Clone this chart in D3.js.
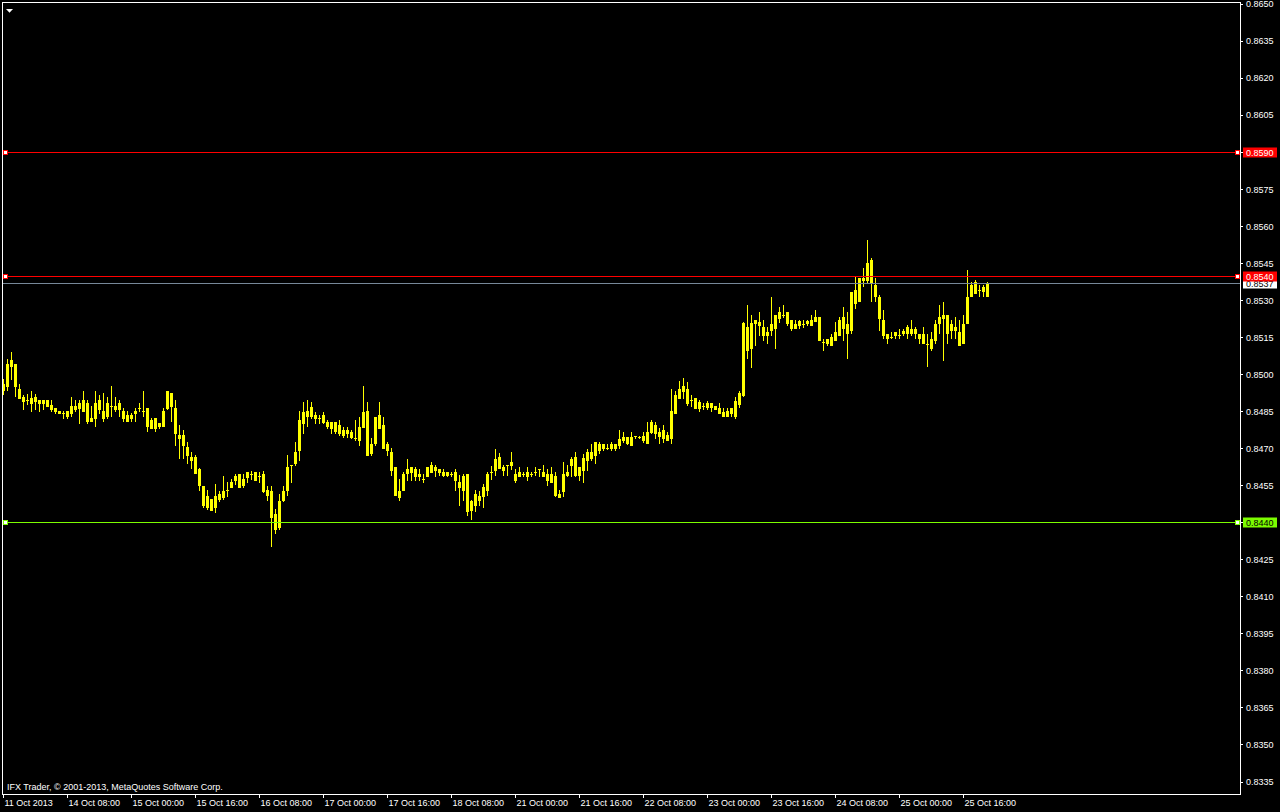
<!DOCTYPE html>
<html><head><meta charset="utf-8">
<script src="https://cdn.jsdelivr.net/npm/d3@7"></script>
<style>
html,body{margin:0;padding:0;background:#000;overflow:hidden}
svg{display:block}
text{font-family:"Liberation Sans",Arial,sans-serif;font-size:9px}
</style>
</head><body>
<svg id="c" width="1280" height="812"></svg>
<script>
// ---- data (EURGBP-like H1 candles, 11 Oct 2013 16:00 .. 25 Oct 2013) ----
const opens=[
0.84938,0.84952,0.85057,0.85043,0.84942,0.84907,0.84894,0.84884,0.84907,0.84894,
0.84883,0.84894,0.84875,0.84864,0.84853,0.84844,0.84829,0.84843,0.84873,0.84864,
0.84851,0.84884,0.84810,0.84821,0.84894,0.84853,0.84829,0.84873,0.84873,0.84861,
0.84853,0.84833,0.84821,0.84843,0.84864,0.84853,0.84864,0.84781,0.84824,0.84790,
0.84790,0.84864,0.84922,0.84864,0.84752,0.84752,0.84705,0.84665,0.84663,0.84616,
0.84546,0.84463,0.84493,0.84463,0.84493,0.84503,0.84533,0.84544,0.84573,0.84544,
0.84576,0.84584,0.84595,0.84573,0.84587,0.84595,0.84533,0.84525,0.84433,0.84380,
0.84490,0.84530,0.84634,0.84641,0.84693,0.84801,0.84829,0.84867,0.84833,0.84824,
0.84808,0.84806,0.84781,0.84806,0.84761,0.84774,0.84761,0.84767,0.84742,0.84734,
0.84787,0.84853,0.84680,0.84720,0.84833,0.84793,0.84716,0.84684,0.84625,0.84525,
0.84532,0.84599,0.84602,0.84615,0.84586,0.84575,0.84586,0.84602,0.84625,0.84615,
0.84603,0.84592,0.84594,0.84603,0.84565,0.84532,0.84595,0.84451,0.84471,0.84505,
0.84505,0.84532,0.84602,0.84612,0.84665,0.84612,0.84634,0.84633,0.84595,0.84586,
0.84594,0.84586,0.84594,0.84602,0.84615,0.84603,0.84595,0.84564,0.84586,0.84514,
0.84525,0.84592,0.84634,0.84665,0.84592,0.84612,0.84653,0.84684,0.84673,0.84716,
0.84703,0.84703,0.84700,0.84716,0.84713,0.84734,0.84744,0.84713,0.84751,0.84744,
0.84734,0.84723,0.84767,0.84793,0.84765,0.84740,0.84754,0.84740,0.84844,0.84902,
0.84932,0.84942,0.84894,0.84905,0.84862,0.84873,0.84869,0.84885,0.84873,0.84865,
0.84846,0.84829,0.84841,0.84829,0.84881,0.84914,0.85191,0.85107,0.85207,0.85212,
0.85192,0.85160,0.85180,0.85188,0.85229,0.85241,0.85253,0.85221,0.85188,0.85200,
0.85204,0.85208,0.85200,0.85217,0.85233,0.85132,0.85128,0.85120,0.85140,0.85160,
0.85188,0.85204,0.85180,0.85289,0.85297,0.85389,0.85382,0.85463,0.85362,0.85314,
0.85221,0.85164,0.85152,0.85160,0.85160,0.85168,0.85168,0.85184,0.85168,0.85164,
0.85164,0.85124,0.85108,0.85140,0.85208,0.85229,0.85241,0.85180,0.85192,0.85172,
0.85128,0.85208,0.85318,0.85330,0.85342,0.85338,0.85318];
const highs=[
0.84981,0.85063,0.85090,0.85043,0.84962,0.84915,0.84921,0.84934,0.84921,0.84894,
0.84894,0.84894,0.84894,0.84864,0.84853,0.84853,0.84853,0.84906,0.84894,0.84894,
0.84934,0.84894,0.84873,0.84934,0.84915,0.84922,0.84906,0.84954,0.84906,0.84894,
0.84864,0.84851,0.84843,0.84864,0.84884,0.84934,0.84864,0.84824,0.84824,0.84803,
0.84864,0.84934,0.84922,0.84894,0.84793,0.84773,0.84724,0.84684,0.84674,0.84622,
0.84546,0.84533,0.84493,0.84555,0.84525,0.84587,0.84565,0.84576,0.84595,0.84595,
0.84595,0.84602,0.84606,0.84602,0.84602,0.84606,0.84546,0.84546,0.84454,0.84514,
0.84546,0.84674,0.84634,0.84724,0.84853,0.84887,0.84894,0.84887,0.84847,0.84833,
0.84847,0.84813,0.84806,0.84806,0.84813,0.84786,0.84786,0.84773,0.84813,0.84827,
0.84954,0.84887,0.84743,0.84827,0.84887,0.84827,0.84724,0.84703,0.84625,0.84575,
0.84603,0.84656,0.84625,0.84625,0.84615,0.84595,0.84625,0.84645,0.84634,0.84615,
0.84615,0.84603,0.84603,0.84615,0.84592,0.84595,0.84595,0.84491,0.84532,0.84525,
0.84555,0.84603,0.84629,0.84696,0.84682,0.84634,0.84634,0.84684,0.84615,0.84625,
0.84603,0.84625,0.84603,0.84625,0.84615,0.84634,0.84615,0.84625,0.84603,0.84532,
0.84645,0.84634,0.84665,0.84684,0.84625,0.84676,0.84696,0.84716,0.84724,0.84724,
0.84716,0.84716,0.84724,0.84716,0.84773,0.84765,0.84744,0.84765,0.84751,0.84751,
0.84765,0.84805,0.84813,0.84805,0.84783,0.84793,0.84765,0.84942,0.84933,0.84973,
0.84983,0.84967,0.84914,0.84905,0.84894,0.84885,0.84893,0.84885,0.84873,0.84885,
0.84865,0.84865,0.84865,0.84906,0.84934,0.85212,0.85281,0.85241,0.85221,0.85253,
0.85221,0.85192,0.85313,0.85241,0.85273,0.85281,0.85253,0.85221,0.85221,0.85221,
0.85221,0.85221,0.85241,0.85261,0.85233,0.85144,0.85144,0.85164,0.85213,0.85233,
0.85273,0.85253,0.85334,0.85398,0.85390,0.85431,0.85544,0.85471,0.85390,0.85322,
0.85261,0.85164,0.85172,0.85172,0.85184,0.85184,0.85200,0.85221,0.85192,0.85164,
0.85192,0.85164,0.85172,0.85221,0.85281,0.85293,0.85241,0.85221,0.85233,0.85221,
0.85241,0.85423,0.85374,0.85382,0.85362,0.85362,0.85374];
const lows=[
0.84918,0.84938,0.84979,0.84911,0.84902,0.84861,0.84880,0.84851,0.84861,0.84851,
0.84861,0.84871,0.84851,0.84843,0.84841,0.84822,0.84822,0.84829,0.84851,0.84802,
0.84851,0.84802,0.84810,0.84790,0.84843,0.84810,0.84822,0.84830,0.84851,0.84829,
0.84810,0.84810,0.84810,0.84810,0.84851,0.84830,0.84770,0.84781,0.84770,0.84783,
0.84790,0.84861,0.84810,0.84713,0.84661,0.84661,0.84641,0.84622,0.84599,0.84532,
0.84463,0.84452,0.84451,0.84443,0.84485,0.84493,0.84506,0.84544,0.84555,0.84544,
0.84544,0.84565,0.84576,0.84573,0.84565,0.84522,0.84491,0.84304,0.84355,0.84374,
0.84485,0.84511,0.84565,0.84633,0.84653,0.84761,0.84790,0.84821,0.84801,0.84801,
0.84801,0.84781,0.84761,0.84761,0.84754,0.84747,0.84747,0.84740,0.84734,0.84713,
0.84787,0.84673,0.84673,0.84713,0.84781,0.84700,0.84673,0.84592,0.84512,0.84491,
0.84532,0.84572,0.84572,0.84572,0.84572,0.84564,0.84586,0.84602,0.84586,0.84592,
0.84586,0.84586,0.84586,0.84532,0.84471,0.84491,0.84431,0.84415,0.84444,0.84471,
0.84464,0.84512,0.84575,0.84592,0.84619,0.84592,0.84592,0.84615,0.84564,0.84586,
0.84586,0.84572,0.84586,0.84592,0.84586,0.84586,0.84552,0.84564,0.84505,0.84502,
0.84505,0.84586,0.84586,0.84586,0.84572,0.84565,0.84612,0.84653,0.84639,0.84682,
0.84693,0.84696,0.84693,0.84693,0.84703,0.84724,0.84716,0.84713,0.84743,0.84740,
0.84724,0.84723,0.84761,0.84743,0.84723,0.84724,0.84734,0.84723,0.84844,0.84902,
0.84905,0.84875,0.84871,0.84862,0.84851,0.84861,0.84861,0.84850,0.84861,0.84841,
0.84829,0.84829,0.84829,0.84821,0.84869,0.84910,0.85067,0.85031,0.85120,0.85160,
0.85140,0.85128,0.85160,0.85107,0.85212,0.85233,0.85200,0.85180,0.85188,0.85188,
0.85192,0.85200,0.85200,0.85217,0.85140,0.85099,0.85120,0.85120,0.85140,0.85160,
0.85140,0.85067,0.85168,0.85269,0.85297,0.85358,0.85374,0.85297,0.85297,0.85180,
0.85148,0.85128,0.85148,0.85148,0.85148,0.85160,0.85148,0.85160,0.85148,0.85128,
0.85128,0.85032,0.85099,0.85128,0.85168,0.85059,0.85128,0.85148,0.85148,0.85120,
0.85128,0.85208,0.85318,0.85330,0.85318,0.85318,0.85318];
const closes=[
0.84962,0.85043,0.85032,0.84952,0.84904,0.84891,0.84894,0.84904,0.84891,0.84883,
0.84894,0.84872,0.84861,0.84851,0.84843,0.84844,0.84853,0.84873,0.84861,0.84884,
0.84894,0.84810,0.84824,0.84884,0.84861,0.84821,0.84884,0.84873,0.84861,0.84884,
0.84821,0.84810,0.84833,0.84853,0.84864,0.84853,0.84790,0.84813,0.84781,0.84803,
0.84853,0.84934,0.84871,0.84762,0.84740,0.84713,0.84673,0.84653,0.84599,0.84552,
0.84471,0.84506,0.84451,0.84506,0.84514,0.84525,0.84533,0.84565,0.84587,0.84595,
0.84552,0.84602,0.84595,0.84602,0.84587,0.84525,0.84511,0.84423,0.84374,0.84485,
0.84525,0.84624,0.84634,0.84684,0.84813,0.84847,0.84853,0.84829,0.84821,0.84824,
0.84833,0.84789,0.84806,0.84770,0.84793,0.84754,0.84774,0.84747,0.84742,0.84786,
0.84847,0.84673,0.84716,0.84827,0.84781,0.84700,0.84693,0.84612,0.84512,0.84502,
0.84595,0.84615,0.84625,0.84586,0.84595,0.84575,0.84625,0.84634,0.84612,0.84602,
0.84592,0.84603,0.84594,0.84572,0.84542,0.84586,0.84444,0.84485,0.84514,0.84491,
0.84544,0.84595,0.84602,0.84656,0.84619,0.84625,0.84634,0.84645,0.84572,0.84603,
0.84594,0.84603,0.84594,0.84602,0.84615,0.84586,0.84572,0.84595,0.84512,0.84502,
0.84595,0.84603,0.84656,0.84592,0.84625,0.84662,0.84684,0.84662,0.84724,0.84693,
0.84716,0.84703,0.84716,0.84700,0.84736,0.84744,0.84723,0.84744,0.84751,0.84744,
0.84751,0.84765,0.84805,0.84761,0.84750,0.84773,0.84734,0.84852,0.84914,0.84942,
0.84954,0.84882,0.84894,0.84862,0.84886,0.84873,0.84885,0.84869,0.84861,0.84841,
0.84829,0.84853,0.84865,0.84893,0.84922,0.85207,0.85099,0.85206,0.85221,0.85199,
0.85160,0.85172,0.85204,0.85241,0.85253,0.85241,0.85208,0.85188,0.85204,0.85216,
0.85204,0.85217,0.85221,0.85233,0.85140,0.85132,0.85144,0.85152,0.85172,0.85221,
0.85233,0.85168,0.85334,0.85342,0.85390,0.85382,0.85451,0.85370,0.85318,0.85229,
0.85160,0.85148,0.85152,0.85172,0.85160,0.85176,0.85192,0.85168,0.85184,0.85148,
0.85128,0.85124,0.85144,0.85204,0.85233,0.85241,0.85168,0.85204,0.85180,0.85120,
0.85204,0.85314,0.85362,0.85374,0.85342,0.85354,0.85370];

const xTickBars=[0,16,32,48,64,80,96,112,128,144,160,176,192,208,224,240];
const xTickLabels=["11 Oct 2013","14 Oct 08:00","15 Oct 00:00","15 Oct 16:00","16 Oct 08:00",
"17 Oct 00:00","17 Oct 16:00","18 Oct 08:00","21 Oct 00:00","21 Oct 16:00","22 Oct 08:00",
"23 Oct 00:00","23 Oct 16:00","24 Oct 08:00","25 Oct 00:00","25 Oct 16:00"];
const yTickLabels=["0.8650","0.8635","0.8620","0.8605","0.8590","0.8575","0.8560","0.8545",
"0.8530","0.8515","0.8500","0.8485","0.8470","0.8455","0.8440","0.8425","0.8410","0.8395",
"0.8380","0.8365","0.8350","0.8335"];
const levelPrices=[0.8590,0.8540,0.8440];
const levelLabels=["0.8590","0.8540","0.8440"];
const bidPrice=0.8537;
const bidLabel="0.8537";
const copyright="IFX Trader, \u00A9 2001-2013, MetaQuotes Software Corp.";

// ---- styles / layout ----
const levelColors=["#ff0000","#ff0000","#7cfc00"];
const levelTextColors=["#ffffff","#ffffff","#000000"];
const candleColor="#ffff00";
const L=2.5,R=1240.5,T=2.5,B=794.5;

const svg=d3.select("#c");
svg.append("rect").attr("width",1280).attr("height",812).attr("fill","#000");

const x=d3.scaleLinear().domain([0,246]).range([3,987]);
const y=d3.scaleLinear().domain([0.8650,0.8335]).range([4,781.5]);

svg.append("defs").append("clipPath").attr("id","plot")
  .append("rect").attr("x",3).attr("y",3).attr("width",1237).attr("height",791);

// candles
const idx=d3.range(opens.length);
const cg=svg.append("g").attr("clip-path","url(#plot)").attr("shape-rendering","crispEdges");
cg.selectAll("rect.w").data(idx).join("rect").attr("class","w")
  .attr("x",i=>x(i)).attr("width",1)
  .attr("y",i=>Math.round(y(highs[i])))
  .attr("height",i=>Math.max(1,Math.round(y(lows[i]))-Math.round(y(highs[i]))+1))
  .attr("fill",candleColor);
cg.selectAll("rect.b").data(idx).join("rect").attr("class","b")
  .attr("x",i=>x(i)-1).attr("width",3)
  .attr("y",i=>Math.round(y(Math.max(opens[i],closes[i]))))
  .attr("height",i=>Math.max(1,Math.round(y(Math.min(opens[i],closes[i])))-Math.round(y(Math.max(opens[i],closes[i])))+1))
  .attr("fill",candleColor);

// horizontal levels
const lg=svg.append("g").attr("shape-rendering","crispEdges");
const yy=p=>Math.round(y(p))+0.5;
lg.append("line").attr("x1",3).attr("x2",1240).attr("y1",yy(bidPrice)).attr("y2",yy(bidPrice))
  .attr("stroke","#778899").attr("stroke-width",1);
levelPrices.forEach((p,k)=>{
  lg.append("line").attr("x1",3).attr("x2",1240).attr("y1",yy(p)).attr("y2",yy(p))
    .attr("stroke",levelColors[k]).attr("stroke-width",1);
  [3.5,1235.5].forEach(hx=>{
    lg.append("rect").attr("x",hx).attr("y",yy(p)-2).attr("width",4).attr("height",4)
      .attr("fill","#fff").attr("stroke",levelColors[k]).attr("stroke-width",1);
  });
});

// frame
svg.append("rect").attr("x",L).attr("y",T).attr("width",R-L).attr("height",B-T)
  .attr("fill","none").attr("stroke","#fff").attr("stroke-width",1).attr("shape-rendering","crispEdges");

// right axis
const yAxis=d3.axisRight(y).tickValues(yTickLabels.map(Number)).tickFormat((d,i)=>yTickLabels[i])
  .tickSize(3).tickPadding(3);
const ga=svg.append("g").attr("transform","translate(1240,0)").call(yAxis);
ga.select(".domain").remove();
ga.selectAll("line").attr("stroke","#fff").attr("shape-rendering","crispEdges");
ga.selectAll("text").attr("fill","#fff").attr("font-family","Liberation Sans, Arial, sans-serif").attr("font-size",9);

// bottom axis
const xAxis=d3.axisBottom(x).tickValues(xTickBars).tickFormat((d,i)=>xTickLabels[i]).tickSize(4).tickPadding(2);
const gx=svg.append("g").attr("transform","translate(0,794)").call(xAxis);
gx.select(".domain").remove();
gx.selectAll("line").attr("stroke","#fff").attr("shape-rendering","crispEdges");
gx.selectAll("text").attr("fill","#fff").attr("text-anchor","start").attr("x",1)
  .attr("font-family","Liberation Sans, Arial, sans-serif").attr("font-size",9);

// price labels on the right
function priceBox(p,label,bg,fg){
  const c=Math.round(y(p))+0.5;
  const g=svg.append("g");
  g.append("rect").attr("x",1243).attr("y",c-5).attr("width",34).attr("height",10).attr("fill",bg);
  g.append("text").attr("x",1246).attr("y",c).attr("dy","0.34em").attr("fill",fg).text(label);
}
priceBox(bidPrice,bidLabel,"#ffffff","#000000");
levelPrices.forEach((p,k)=>priceBox(p,levelLabels[k],levelColors[k],levelTextColors[k]));

// top-left triangle
svg.append("path").attr("d","M6,9 L13,9 L9.5,12.8 Z").attr("fill","#fff");

// copyright
svg.append("text").attr("x",7).attr("y",790).attr("fill","#fff").text(copyright);
</script>
</body></html>
